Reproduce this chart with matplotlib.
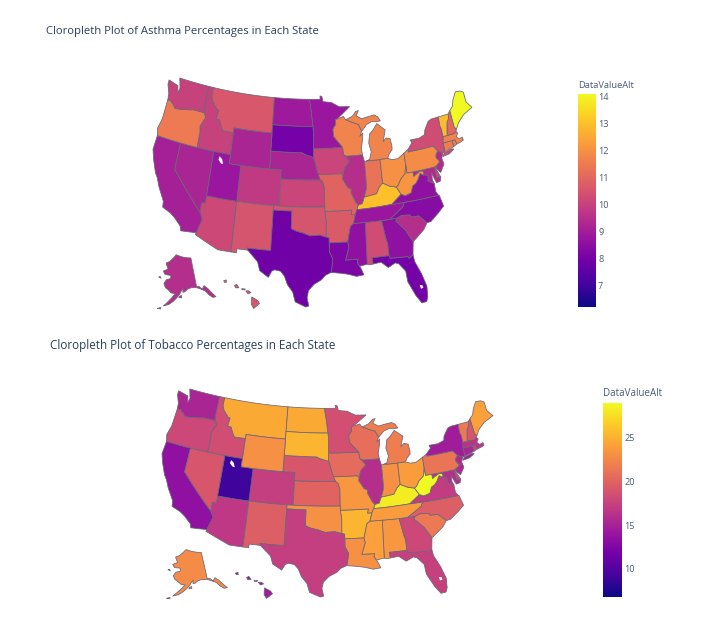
"""Two state choropleths (asthma, tobacco) on a hand-traced Albers USA base map."""
import numpy as np
import matplotlib
matplotlib.use("Agg")
import matplotlib.pyplot as plt
from matplotlib.collections import PolyCollection
from matplotlib.colors import LinearSegmentedColormap, Normalize

STATES = ["AL", "AK", "AZ", "AR", "CA", "CO", "CT", "DE", "FL", "GA", "HI", "ID", "IL", "IN", "IA",
          "KS", "KY", "LA", "ME", "MD", "MA", "MI", "MN", "MS", "MO", "MT", "NE", "NV", "NH", "NJ",
          "NM", "NY", "NC", "ND", "OH", "OK", "OR", "PA", "RI", "SC", "SD", "TN", "TX", "UT", "VT",
          "VA", "WA", "WV", "WI", "WY"]
ASTHMA = [10.3, 9.5, 10.2, 10.7, 9.1, 9.8, 11.6, 10.2, 8.0, 8.6, 10.6, 10.0, 9.5, 11.3, 10.1,
          10.1, 13.0, 8.2, 14.1, 9.4, 11.7, 11.7, 8.8, 8.6, 10.9, 10.6, 9.2, 9.2, 11.0, 9.4,
          10.5, 10.3, 8.4, 8.9, 12.0, 10.5, 11.5, 11.9, 11.7, 9.5, 8.0, 8.8, 7.9, 8.8, 12.9,
          8.6, 10.0, 12.1, 11.7, 9.2]
TOBACCO = [23.4, 22.7, 16.7, 25.2, 13.4, 17.2, 15.2, 18.0, 17.4, 17.9, 14.5, 18.3, 16.0, 23.0, 20.5,
           20.0, 28.2, 23.0, 24.0, 16.0, 16.3, 21.8, 18.5, 24.0, 23.4, 24.5, 19.0, 19.0, 19.0, 15.6,
           19.6, 14.5, 19.6, 24.5, 23.8, 23.0, 17.9, 21.2, 18.0, 21.4, 25.2, 23.8, 17.2, 9.0, 21.5,
           17.0, 15.2, 28.9, 20.7, 23.0]
ASTHMA_TICKS = [7, 8, 9, 10, 11, 12, 13, 14]
TOBACCO_TICKS = [10, 15, 20, 25]
ASTHMA_RANGE = (6.2, 14.1)
TOBACCO_RANGE = (6.8, 28.9)

PLASMA = ["#0d0887", "#46039f", "#7201a8", "#9c179e", "#bd3786",
          "#d8576b", "#ed7953", "#fb9f3a", "#fdca26", "#f0f921"]
TEXT = "#2a3f5f"

# base map outlines, lon/lat, rough hand trace of the state borders
SHAPES = {
    "WA": [[(-124.7, 48.4), (-122.8, 48.1), (-122.5, 47.3), (-122.3, 47.9), (-122.8, 49), (-117.03, 49), (-117.04, 46.42), (-116.92, 45.99), (-118.98, 46), (-119.3, 45.93), (-121.2, 45.65), (-122.3, 45.55), (-122.8, 45.9), (-123.4, 46.2), (-124, 46.25), (-124.1, 46.9), (-124.7, 47.9)]],
    "OR": [[(-124, 46.25), (-123.4, 46.2), (-122.8, 45.9), (-122.3, 45.55), (-121.2, 45.65), (-119.3, 45.93), (-118.98, 46), (-116.92, 45.99), (-116.5, 45.5), (-117.2, 44.4), (-117.03, 43.8), (-117.03, 42), (-124.2, 42), (-124.5, 42.8), (-124.1, 44)]],
    "CA": [[(-124.2, 42), (-120, 42), (-120, 39), (-114.63, 35), (-114.14, 34.3), (-114.5, 33.4), (-114.72, 32.72), (-117.12, 32.53), (-117.3, 33), (-118.4, 33.75), (-119.2, 34.15), (-120.6, 34.55), (-120.7, 35.2), (-121.9, 36.6), (-122.5, 37.5), (-123, 38), (-123.8, 39.3), (-124.35, 40.4)]],
    "NV": [[(-120, 42), (-114.04, 42), (-114.04, 36.2), (-114.7, 36.1), (-114.63, 35), (-120, 39)]],
    "ID": [[(-117.03, 49), (-116.05, 49), (-116.05, 48), (-115.7, 47.45), (-114.7, 46.7), (-114.35, 46.65), (-114.5, 45.6), (-113.9, 45.6), (-113.45, 44.95), (-113, 44.45), (-111.05, 44.48), (-111.05, 42), (-117.03, 42), (-117.03, 43.8), (-117.2, 44.4), (-116.5, 45.5), (-116.92, 45.99), (-117.04, 46.42)]],
    "MT": [[(-116.05, 49), (-104.05, 49), (-104.05, 45), (-111.05, 45), (-111.05, 44.48), (-113, 44.45), (-113.45, 44.95), (-113.9, 45.6), (-114.5, 45.6), (-114.35, 46.65), (-114.7, 46.7), (-115.7, 47.45), (-116.05, 48)]],
    "WY": [[(-111.05, 45), (-104.05, 45), (-104.05, 41), (-111.05, 41)]],
    "UT": [[(-114.04, 42), (-111.05, 42), (-111.05, 41), (-109.05, 41), (-109.05, 37), (-114.04, 37)]],
    "CO": [[(-109.05, 41), (-102.05, 41), (-102.05, 37), (-109.05, 37)]],
    "AZ": [[(-114.04, 37), (-109.05, 37), (-109.05, 31.33), (-111.07, 31.33), (-114.81, 32.5), (-114.72, 32.72), (-114.5, 33.4), (-114.14, 34.3), (-114.63, 35), (-114.7, 36.1), (-114.04, 36.2)]],
    "NM": [[(-109.05, 37), (-103, 37), (-103.04, 32), (-106.62, 32), (-106.53, 31.78), (-108.2, 31.78), (-108.2, 31.33), (-109.05, 31.33)]],
    "ND": [[(-104.05, 49), (-97.23, 49), (-96.85, 47.5), (-96.56, 45.94), (-104.05, 45.94)]],
    "SD": [[(-104.05, 45.94), (-96.56, 45.94), (-96.45, 45.3), (-96.45, 43.5), (-96.45, 42.49), (-97.9, 42.8), (-98.5, 43), (-104.05, 43)]],
    "NE": [[(-104.05, 43), (-98.5, 43), (-97.9, 42.8), (-96.45, 42.49), (-96.1, 41.7), (-95.85, 41), (-95.31, 40), (-102.05, 40), (-102.05, 41), (-104.05, 41)]],
    "KS": [[(-102.05, 40), (-95.31, 40), (-94.9, 39.8), (-94.61, 39.1), (-94.62, 37), (-102.05, 37)]],
    "OK": [[(-103, 37), (-94.62, 37), (-94.62, 36.5), (-94.43, 35.4), (-94.48, 33.64), (-95.5, 33.88), (-97, 33.8), (-98.1, 34.1), (-99.2, 34.3), (-100, 34.56), (-100, 36.5), (-103, 36.5)]],
    "TX": [[(-106.62, 32), (-103.04, 32), (-103, 36.5), (-100, 36.5), (-100, 34.56), (-99.2, 34.3), (-98.1, 34.1), (-97, 33.8), (-95.5, 33.88), (-94.48, 33.64), (-94.04, 33.55), (-94.04, 31.99), (-93.55, 31.2), (-93.7, 30.3), (-93.85, 29.7), (-94.7, 29.4), (-95.3, 28.9), (-96.4, 28.4), (-97.2, 27.7), (-97.4, 26.9), (-97.15, 25.96), (-97.6, 25.85), (-99.1, 26.4), (-99.5, 27.5), (-100.3, 28.3), (-100.8, 29.25), (-101.4, 29.77), (-102.3, 29.88), (-102.7, 29.7), (-103.15, 28.98), (-104.5, 29.65), (-104.9, 30.6), (-106.53, 31.78)]],
    "MN": [[(-97.23, 49), (-95.15, 49), (-95.15, 49.38), (-94.8, 49.3), (-94.6, 48.72), (-93, 48.6), (-91.5, 48.07), (-89.5, 48), (-92, 46.7), (-92.3, 46.66), (-92.3, 46.1), (-92.85, 45.6), (-92.75, 44.75), (-91.22, 43.5), (-96.45, 43.5), (-96.45, 45.3), (-96.56, 45.94), (-96.85, 47.5)]],
    "IA": [[(-96.45, 43.5), (-91.22, 43.5), (-91.1, 42.7), (-90.15, 41.9), (-91.1, 41.2), (-91.42, 40.38), (-91.7, 40.6), (-95.77, 40.58), (-95.85, 41), (-96.1, 41.7), (-96.45, 42.49)]],
    "MO": [[(-95.77, 40.58), (-91.7, 40.6), (-91.42, 40.38), (-91.5, 40), (-90.7, 39), (-90.15, 38.8), (-90.2, 38.4), (-89.5, 37.3), (-89.15, 36.98), (-89.4, 36.5), (-89.7, 36), (-90.37, 36), (-90.2, 36.5), (-94.62, 36.5), (-94.62, 37), (-94.61, 39.1), (-94.9, 39.8), (-95.31, 40)]],
    "AR": [[(-94.62, 36.5), (-90.2, 36.5), (-90.37, 36), (-89.7, 36), (-90.1, 35), (-90.6, 34.7), (-91.15, 33), (-94.04, 33), (-94.04, 33.55), (-94.48, 33.64), (-94.43, 35.4)]],
    "LA": [[(-94.04, 33), (-91.15, 33), (-91, 32.4), (-91.6, 31), (-89.73, 31), (-89.85, 30.65), (-89.55, 30.2), (-89.4, 30), (-89, 29.2), (-90.1, 29.1), (-91.3, 29.4), (-92.3, 29.55), (-93.85, 29.7), (-93.7, 30.3), (-93.55, 31.2), (-94.04, 31.99)]],
    "WI": [[(-92, 46.7), (-90.8, 46.95), (-90.4, 46.55), (-89.1, 46.15), (-88.1, 45.9), (-87.6, 45.1), (-88, 44.55), (-87.4, 44.9), (-87.55, 44.2), (-87.9, 43.2), (-87.8, 42.49), (-90.64, 42.5), (-91.1, 42.7), (-91.22, 43.5), (-92.75, 44.75), (-92.85, 45.6), (-92.3, 46.1), (-92.3, 46.66)]],
    "IL": [[(-90.64, 42.5), (-87.8, 42.49), (-87.53, 41.7), (-87.53, 39.35), (-87.6, 38.7), (-88.05, 37.8), (-88.45, 37.1), (-89.15, 36.98), (-89.5, 37.3), (-90.2, 38.4), (-90.15, 38.8), (-90.7, 39), (-91.5, 40), (-91.42, 40.38), (-91.1, 41.2), (-90.15, 41.9), (-91.1, 42.7)]],
    "IN": [[(-87.53, 41.7), (-87.2, 41.76), (-84.8, 41.72), (-84.8, 39.1), (-85.4, 38.7), (-86, 38), (-87, 37.9), (-88.05, 37.8), (-87.6, 38.7), (-87.53, 39.35)]],
    "OH": [[(-84.8, 41.72), (-83.45, 41.73), (-82.7, 41.5), (-81.7, 41.5), (-80.52, 41.98), (-80.52, 40.64), (-80.85, 39.7), (-81.7, 39.2), (-82.2, 38.6), (-82.6, 38.42), (-83.65, 38.63), (-84.8, 39.1)]],
    "MI": [[(-87.2, 41.76), (-84.8, 41.72), (-83.45, 41.73), (-83.1, 42.2), (-82.5, 42.6), (-82.45, 43), (-82.6, 43.85), (-83.3, 44), (-83.9, 43.65), (-83.3, 44.9), (-84.7, 45.75), (-85.5, 45.1), (-86.2, 44.7), (-86.5, 43.7), (-86.2, 42.7), (-86.6, 41.9)],
           [(-90.4, 46.55), (-89.1, 46.9), (-88.4, 47.4), (-87.9, 47.45), (-88.4, 46.9), (-87.4, 46.5), (-86.2, 46.65), (-85, 46.75), (-84.4, 46.5), (-84, 46), (-84.7, 45.95), (-85.6, 46.05), (-86.6, 45.8), (-87.6, 45.1), (-88.1, 45.9), (-89.1, 46.15)]],
    "KY": [[(-89.4, 36.5), (-89.15, 36.98), (-88.45, 37.1), (-88.05, 37.8), (-87, 37.9), (-86, 38), (-85.4, 38.7), (-84.8, 39.1), (-83.65, 38.63), (-82.6, 38.42), (-81.97, 37.54), (-83.68, 36.6), (-88.07, 36.5)]],
    "TN": [[(-90.1, 35), (-89.7, 36), (-89.4, 36.5), (-88.07, 36.5), (-83.68, 36.6), (-81.68, 36.59), (-82, 36.1), (-84.32, 35), (-85.6, 34.98), (-88.2, 35)]],
    "MS": [[(-90.1, 35), (-88.2, 35), (-88.4, 30.35), (-89.55, 30.2), (-89.85, 30.65), (-89.73, 31), (-91.6, 31), (-91, 32.4), (-91.15, 33), (-90.6, 34.7)]],
    "AL": [[(-88.2, 35), (-85.6, 34.98), (-85.18, 32.87), (-85, 32.3), (-85, 31), (-87.6, 31), (-87.5, 30.3), (-88, 30.25), (-88.4, 30.35)]],
    "GA": [[(-85.6, 34.98), (-83.1, 35), (-83.35, 34.7), (-82, 33.5), (-81.1, 32.1), (-81.4, 30.7), (-82.05, 30.36), (-82.2, 30.57), (-84.86, 30.7), (-85, 31), (-85, 32.3), (-85.18, 32.87)]],
    "FL": [[(-87.5, 30.3), (-87.6, 31), (-85, 31), (-84.86, 30.7), (-82.2, 30.57), (-82.05, 30.36), (-81.4, 30.7), (-81.3, 29.9), (-80.55, 28.4), (-80.05, 26.9), (-80.15, 25.7), (-80.4, 25.2), (-81.1, 25.15), (-81.8, 26.1), (-82.7, 27.8), (-82.8, 29), (-83.7, 29.95), (-84.2, 30.1), (-85.3, 29.7), (-86.3, 30.4)]],
    "SC": [[(-83.35, 34.7), (-83.1, 35), (-82.3, 35.2), (-81.05, 35.1), (-80.8, 34.82), (-79.67, 34.8), (-78.55, 33.86), (-79.2, 33.2), (-80.4, 32.5), (-81.1, 32.1), (-82, 33.5)]],
    "NC": [[(-84.32, 35), (-82, 36.1), (-81.68, 36.59), (-75.87, 36.55), (-75.5, 35.25), (-76.5, 34.65), (-77.9, 33.9), (-78.55, 33.86), (-79.67, 34.8), (-80.8, 34.82), (-81.05, 35.1), (-82.3, 35.2), (-83.1, 35)]],
    "VA": [[(-83.68, 36.6), (-81.97, 37.54), (-81.3, 37.3), (-80.3, 37.5), (-79.9, 38.2), (-79.3, 38.42), (-78.87, 38.77), (-78.35, 39.4), (-77.83, 39.13), (-77.5, 39.1), (-77.05, 38.85), (-77.3, 38.4), (-76.3, 37.9), (-76.3, 37), (-75.97, 36.55), (-81.68, 36.59)]],
    "WV": [[(-82.6, 38.42), (-82.2, 38.6), (-81.7, 39.2), (-80.85, 39.7), (-80.52, 40.64), (-80.52, 39.72), (-79.48, 39.72), (-79.48, 39.2), (-78.4, 39.62), (-77.83, 39.6), (-77.72, 39.32), (-77.83, 39.13), (-78.35, 39.4), (-78.87, 38.77), (-79.3, 38.42), (-79.9, 38.2), (-80.3, 37.5), (-81.3, 37.3), (-81.97, 37.54)]],
    "MD": [[(-79.48, 39.72), (-75.79, 39.72), (-75.7, 38.46), (-75.05, 38.45), (-75.25, 38.03), (-75.9, 37.95), (-76.2, 38.6), (-76.4, 39.2), (-76.5, 38.4), (-76.3, 37.9), (-77.3, 38.4), (-77.05, 38.85), (-77.5, 39.1), (-77.83, 39.13), (-77.72, 39.32), (-77.83, 39.6), (-78.4, 39.62), (-79.48, 39.2)]],
    "DE": [[(-75.79, 39.72), (-75.4, 39.8), (-75.55, 39.45), (-75.05, 38.45), (-75.7, 38.46)]],
    "PA": [[(-80.52, 41.98), (-79.76, 42.27), (-79.76, 42), (-75.35, 42), (-74.7, 41.36), (-75.13, 40.98), (-75.2, 40.7), (-74.72, 40.15), (-75.4, 39.8), (-75.79, 39.72), (-80.52, 39.72), (-80.52, 40.64)]],
    "NJ": [[(-74.7, 41.36), (-73.9, 41), (-74.25, 40.45), (-74.1, 39.75), (-74.9, 38.95), (-75.5, 39.5), (-75.4, 39.8), (-74.72, 40.15), (-75.2, 40.7), (-75.13, 40.98)]],
    "NY": [[(-79.76, 42), (-79.76, 42.27), (-78.9, 42.9), (-79.05, 43.27), (-77.5, 43.25), (-76.4, 43.5), (-76.2, 44), (-75.3, 44.85), (-74.7, 45), (-73.35, 45.01), (-73.4, 44), (-73.27, 43.6), (-73.27, 42.75), (-73.5, 42.05), (-73.5, 41.3), (-73.65, 41), (-73.9, 41), (-74.7, 41.36), (-75.35, 42)],
           [(-74, 40.6), (-73.7, 40.9), (-72.3, 41.15), (-71.9, 41.05), (-72.8, 40.7)]],
    "CT": [[(-73.5, 42.05), (-71.8, 42.02), (-71.85, 41.32), (-73.65, 41), (-73.5, 41.3)]],
    "RI": [[(-71.8, 42.02), (-71.38, 42.02), (-71.2, 41.5), (-71.85, 41.32)]],
    "MA": [[(-73.27, 42.75), (-71.3, 42.7), (-70.85, 42.87), (-70.6, 42.65), (-71, 42.3), (-70.6, 41.95), (-70, 42.05), (-69.95, 41.7), (-70.65, 41.55), (-71.2, 41.5), (-71.38, 42.02), (-71.8, 42.02), (-73.5, 42.05)]],
    "VT": [[(-73.35, 45.01), (-71.5, 45.01), (-71.55, 44.6), (-72.05, 44.1), (-72.45, 43), (-72.46, 42.73), (-73.27, 42.75), (-73.27, 43.6), (-73.4, 44)]],
    "NH": [[(-71.5, 45.01), (-71.08, 45.3), (-70.98, 43.4), (-70.7, 43.07), (-70.85, 42.87), (-71.3, 42.7), (-72.46, 42.73), (-72.45, 43), (-72.05, 44.1), (-71.55, 44.6)]],
    "ME": [[(-71.08, 45.3), (-70.4, 45.7), (-70, 46.4), (-69.23, 47.15), (-68.3, 47.05), (-67.8, 46.8), (-67.8, 45.7), (-67.45, 45.3), (-67, 44.85), (-68.8, 44.4), (-70, 43.75), (-70.7, 43.07), (-70.98, 43.4)]],
    "AK": [[(-141, 69.65), (-141, 60.3), (-139, 60), (-137.5, 58.9), (-135.5, 59.8), (-133.5, 58.5), (-131, 56), (-130, 55), (-132, 55.2), (-134, 56.5), (-135.5, 58), (-138, 59), (-141, 59.9), (-145, 60.3), (-148, 60), (-150, 59.3), (-151.5, 59.2), (-151.2, 60.4), (-152.2, 59.9), (-154, 58.6), (-155, 58), (-158, 56.5), (-161, 55.3), (-164.5, 54.6), (-162, 56), (-158.5, 58), (-157, 58.8), (-160, 59), (-162, 59.8), (-164.5, 60.5), (-166, 61.7), (-164.5, 63), (-161, 63.6), (-161, 64.6), (-166, 64.6), (-168, 65.6), (-164, 66.5), (-166.5, 68.3), (-163, 69), (-156.5, 71.3), (-150, 70.5), (-145, 70)],
           [(-154.5, 57.5), (-152.5, 57.5), (-152.5, 58.2), (-154, 58)],
           [(-168, 53.5), (-166, 54), (-166, 53.5)],
           [(-171, 63.4), (-168.8, 63.2), (-170, 63.7)]],
    "HI": [[(-155.9, 20.25), (-155.1, 19.85), (-154.85, 19.5), (-155.65, 18.95), (-155.95, 19.4)],
           [(-156.7, 20.95), (-156.3, 20.95), (-156, 20.75), (-156.4, 20.6)],
           [(-158.25, 21.55), (-157.95, 21.7), (-157.65, 21.3), (-158.1, 21.3)],
           [(-159.75, 22.1), (-159.4, 22.2), (-159.35, 21.95), (-159.6, 21.9)],
           [(-157.25, 21.2), (-156.75, 21.15), (-156.9, 21.05), (-157.25, 21.1)]],
}
LAKES = [[(-112.9, 41.6), (-112.4, 41.35), (-112.1, 40.8), (-112.5, 40.85), (-113, 41.2)],
         [(-81.05, 27.2), (-80.65, 27.1), (-80.6, 26.8), (-80.95, 26.75)]]


def conic(points, lon0, lat0, p1, p2, scale, dx, dy):
    # Albers equal area, y grows downward, same insets as d3.geoAlbersUsa
    pts = np.radians(np.asarray(points, dtype=float))
    p1, p2 = np.radians(p1), np.radians(p2)
    n = (np.sin(p1) + np.sin(p2)) / 2
    c = np.cos(p1) ** 2 + 2 * n * np.sin(p1)
    rho0 = np.sqrt(c - 2 * n * np.sin(np.radians(lat0))) / n
    rho = np.sqrt(c - 2 * n * np.sin(pts[:, 1])) / n
    theta = n * (pts[:, 0] - np.radians(lon0))
    x = rho * np.sin(theta)
    y = rho0 - rho * np.cos(theta)
    return np.column_stack([scale * x + dx, -scale * y + dy])


def densify(ring):
    out = []
    for a, b in zip(ring, ring[1:] + ring[:1]):
        steps = max(1, int(abs(a[0] - b[0])))
        for t in np.arange(steps) / steps:
            out.append((a[0] + (b[0] - a[0]) * t, a[1] + (b[1] - a[1]) * t))
    return out


def project(state, ring):
    ring = densify(ring)
    if state == "AK":
        return conic(ring, -156, 58.5, 55, 65, 0.35, -0.307, 0.201)
    if state == "HI":
        return conic(ring, -160, 19.9, 8, 18, 1, -0.205, 0.212)
    return conic(ring, -96.6, 38.7, 29.5, 45.5, 1, 0, 0)


lower48 = np.vstack([project(s, r) for s in STATES if s not in ("AK", "HI") for r in SHAPES[s]])


def to_pixels(xy, box):
    x0, x1, y0, y1 = box
    sx = (x1 - x0) / np.ptp(lower48[:, 0])
    sy = (y1 - y0) / np.ptp(lower48[:, 1])
    return np.column_stack([x0 + (xy[:, 0] - lower48[:, 0].min()) * sx,
                            y0 + (xy[:, 1] - lower48[:, 1].min()) * sy])


def draw_map(ax, values, vrange, box, cmap):
    polys, vals = [], []
    for state, value in zip(STATES, values):
        for ring in SHAPES[state]:
            polys.append(to_pixels(project(state, ring), box))
            vals.append(value)
    coll = PolyCollection(polys, array=np.array(vals), cmap=cmap,
                          norm=Normalize(*vrange), edgecolors="#6a6678", linewidths=0.55)
    ax.add_collection(coll)
    for lake in LAKES:
        ax.fill(*to_pixels(project("", lake), box).T, color="white", lw=0, zorder=3)
    return coll


def add_bar(fig, coll, ticks, left, top, bottom, width, title_size):
    cax = fig.add_axes([left / 706, 1 - bottom / 630, width / 706, (bottom - top) / 630])
    cb = fig.colorbar(coll, cax=cax, ticks=ticks)
    cb.outline.set_visible(False)
    cb.ax.tick_params(length=0, pad=1.5, labelsize=6.6, labelcolor="#4a5a78")
    fig.text(left / 706, 1 - (top - 9) / 630, "DataValueAlt", fontsize=title_size,
             color="#4a5a78", va="center")


def main():
    plt.rcParams["font.family"] = ["Open Sans", "DejaVu Sans"]
    cmap = LinearSegmentedColormap.from_list("plotly_plasma", PLASMA)

    fig = plt.figure(figsize=(7.06, 6.30), dpi=100, facecolor="white")
    ax = fig.add_axes([0, 0, 1, 1])
    ax.set_xlim(0, 706)
    ax.set_ylim(630, 0)
    ax.set_axis_off()

    top = draw_map(ax, ASTHMA, ASTHMA_RANGE, (153, 472, 78, 307), cmap)
    bottom = draw_map(ax, TOBACCO, TOBACCO_RANGE, (162, 493, 389, 597), cmap)

    ax.text(46, 31.5, "Cloropleth Plot of Asthma Percentages in Each State",
            fontsize=8.15, color=TEXT, va="center")
    ax.text(50, 345.5, "Cloropleth Plot of Tobacco Percentages in Each State",
            fontsize=8.4, color=TEXT, va="center")

    add_bar(fig, top, ASTHMA_TICKS, 578, 94, 307, 18, 6.7)
    add_bar(fig, bottom, TOBACCO_TICKS, 603, 403, 597, 19, 7.0)

    fig.savefig("out.png", dpi=100)


if __name__ == "__main__":
    main()
